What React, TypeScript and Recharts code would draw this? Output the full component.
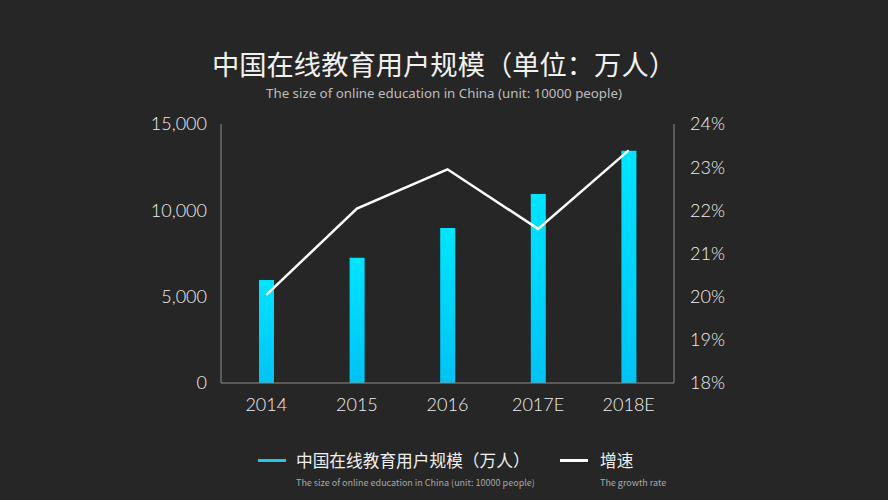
import React from 'react'
import { ComposedChart, Bar, Line, XAxis, YAxis } from 'recharts'

const years = ['2014', '2015', '2016', '2017E', '2018E']
const users = [5970, 7250, 8980, 10950, 13450]
const growth = [20.04, 22.04, 22.95, 21.57, 23.39]

const leftTicks = [0, 5000, 10000, 15000]
const rightTicks = [18, 19, 20, 21, 22, 23, 24]

const BG = '#262626'
const AXIS = '#8c8c8c'
const TEXT = '#efefef'
const CJK = '"Noto Sans CJK SC", "Noto Sans", sans-serif'
const NUM = 'Lato, "Noto Sans", sans-serif'

const chartData = years.map((year, i) => ({ year, users: users[i], growth: growth[i] }))

export default function App() {
  return (
    <div style={{ position: 'fixed', left: 0, top: 0, width: 888, height: 500, background: BG, overflow: 'hidden' }}>
      <div style={{ position: 'absolute', top: 47, width: '100%', textAlign: 'center', color: '#f2f2f2', fontFamily: CJK, fontSize: 27.3, lineHeight: '32px' }}>
        中国在线教育用户规模（单位：万人）
      </div>
      <div style={{ position: 'absolute', top: 85, width: '100%', textAlign: 'center', color: '#bdbdbd', fontFamily: '"Noto Sans", sans-serif', fontSize: 13.3, lineHeight: '16px' }}>
        The size of online education in China (unit: 10000 people)
      </div>
      <ComposedChart
        width={888}
        height={500}
        data={chartData}
        margin={{ top: 124, right: 0, bottom: 87, left: 0 }}
        style={{ position: 'absolute', left: 0, top: 0 }}
      >
        <defs>
          <linearGradient id="barFill" x1="0" y1="0" x2="0" y2="1">
            <stop offset="0%" stopColor="#00e4ff" />
            <stop offset="100%" stopColor="#00c3f4" />
          </linearGradient>
        </defs>
        <XAxis
          dataKey="year"
          stroke={AXIS}
          tickLine={false}
          tickSize={0}
          tickMargin={15}
          tick={{ fill: TEXT, fontSize: 18, fontFamily: NUM, fontWeight: 300 }}
        />
        <YAxis
          yAxisId="left"
          width={221}
          domain={[0, 15000]}
          ticks={leftTicks}
          stroke={AXIS}
          tickLine={false}
          tickSize={0}
          tickMargin={14}
          tickFormatter={(v: number) => v.toLocaleString('en-US')}
          tick={{ fill: TEXT, fontSize: 18, fontFamily: NUM, fontWeight: 300 }}
        />
        <YAxis
          yAxisId="right"
          orientation="right"
          width={214}
          domain={[18, 24]}
          ticks={rightTicks}
          stroke={AXIS}
          tickLine={false}
          tickSize={0}
          tickMargin={16}
          tickFormatter={(v: number) => `${v}%`}
          tick={{ fill: TEXT, fontSize: 18, fontFamily: NUM, fontWeight: 300, textAnchor: 'start' }}
        />
        <Bar yAxisId="left" dataKey="users" fill="url(#barFill)" barSize={15} isAnimationActive={false} />
        <Line
          yAxisId="right"
          dataKey="growth"
          type="linear"
          stroke="#ffffff"
          strokeWidth={2.5}
          dot={false}
          activeDot={false}
          isAnimationActive={false}
        />
      </ComposedChart>
      <div style={{ position: 'absolute', left: 258, top: 449, fontFamily: CJK }}>
        <div style={{ display: 'flex', alignItems: 'center' }}>
          <span style={{ display: 'inline-block', width: 28, height: 3, background: '#1ec8e6', marginRight: 10 }} />
          <span style={{ color: '#f0f0f0', fontSize: 16.7, lineHeight: '22px' }}>中国在线教育用户规模（万人）</span>
        </div>
        <div style={{ marginLeft: 38, marginTop: 5, color: '#a8a8a8', fontSize: 9 }}>
          The size of online education in China (unit: 10000 people)
        </div>
      </div>
      <div style={{ position: 'absolute', left: 560, top: 449, fontFamily: CJK }}>
        <div style={{ display: 'flex', alignItems: 'center' }}>
          <span style={{ display: 'inline-block', width: 28, height: 3, background: '#ffffff', marginRight: 12 }} />
          <span style={{ color: '#f0f0f0', fontSize: 16.7, lineHeight: '22px' }}>增速</span>
        </div>
        <div style={{ marginLeft: 40, marginTop: 5, color: '#a8a8a8', fontSize: 9 }}>The growth rate</div>
      </div>
    </div>
  )
}
